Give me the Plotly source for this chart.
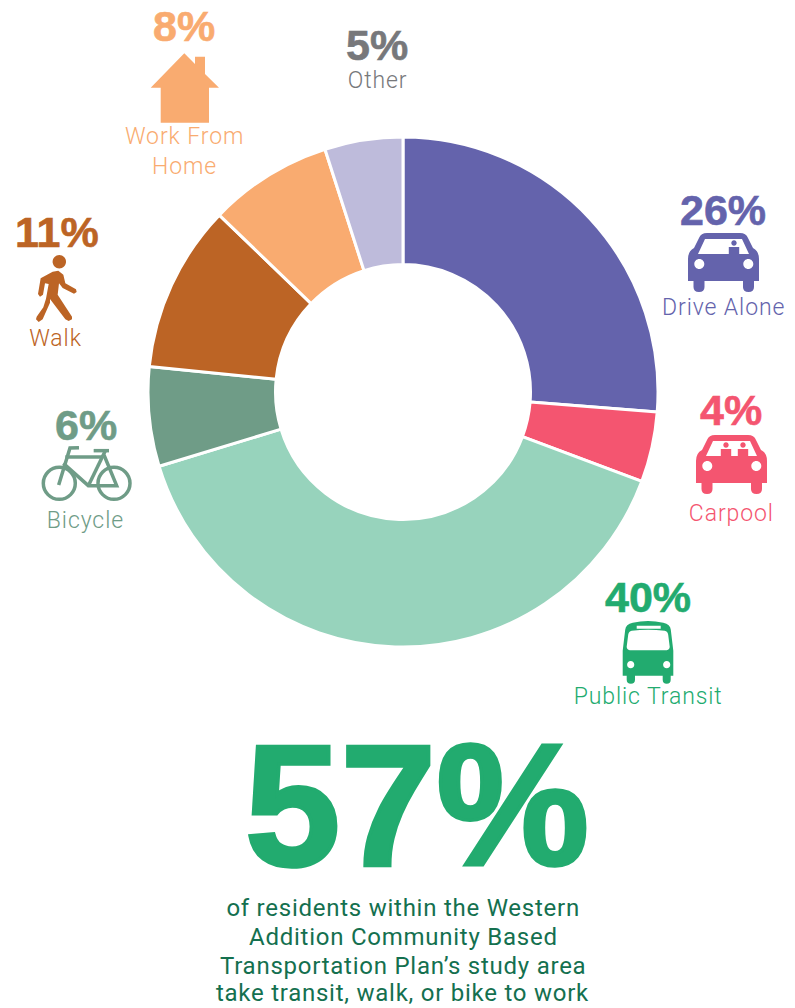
import json
import plotly.graph_objects as go

W, H = 795, 1008

# ---- data ----
categories = ["Drive Alone", "Carpool", "Public Transit", "Bicycle", "Walk", "Work From Home", "Other"]
printed_percent = [26, 4, 40, 6, 11, 8, 5]
slice_share = [26.25, 4.45, 39.6, 6.3, 10.6, 7.85, 4.95]
slice_colors = ["#6463AC", "#F45570", "#97D3BC", "#6F9C87", "#BC6425", "#F9AB70", "#BEBBDB"]
label_colors = ["#6463AC", "#F45570", "#22AB6F", "#6F9C87", "#BC6425", "#F9AB70", "#77787B"]
label_lines = ["Drive Alone", "Carpool", "Public Transit", "Bicycle", "Walk", "Work From<br>Home", "Other"]
headline = "57%"
caption_lines = [
    "of residents within the Western",
    "Addition Community Based",
    "Transportation Plan\u2019s study area",
    "take transit, walk, or bike to work",
]

# ---- layout helpers (pixel position -> paper) ----
def px(x):
    return x / W

def py(y):
    return 1 - y / H

def pt(x, y):
    return f"{px(x):.5f},{py(y):.5f}"

def to_path(cmds, ox=0, oy=0, s=1):
    out = []
    for c in cmds:
        letter, nums = c[0], c[1:]
        pairs = [pt(ox + s * nums[i], oy + s * nums[i + 1]) for i in range(0, len(nums), 2)]
        out.append(letter + " ".join(pairs))
    return " ".join(out)

def circle_cmds(cx, cy, r):
    k = 0.5523 * r
    return [
        ("M", cx + r, cy),
        ("C", cx + r, cy + k, cx + k, cy + r, cx, cy + r),
        ("C", cx - k, cy + r, cx - r, cy + k, cx - r, cy),
        ("C", cx - r, cy - k, cx - k, cy - r, cx, cy - r),
        ("C", cx + k, cy - r, cx + r, cy - k, cx + r, cy),
        ("Z",),
    ]

def poly_cmds(points):
    return [("M", *points[0])] + [("L", *p) for p in points[1:]] + [("Z",)]

def filled(cmds, color, ox=0, oy=0, s=1):
    return dict(type="path", path=to_path(cmds, ox, oy, s), xref="paper", yref="paper",
                fillcolor=color, line=dict(width=0), fillrule="evenodd", layer="above")

def stroked(cmds, color, ox=0, oy=0, s=1, width=3):
    return dict(type="path", path=to_path(cmds, ox, oy, s), xref="paper", yref="paper",
                line=dict(color=color, width=width), layer="above")

# ---- icons ----
CAR_BODY = [
    ("M", 19, 0), ("L", 52, 0), ("Q", 58, 0, 60, 5), ("L", 65, 15), ("Q", 71, 18, 71, 26),
    ("L", 71, 48), ("L", 66, 48), ("L", 66, 54), ("Q", 66, 59, 60.5, 59), ("Q", 55, 59, 55, 54),
    ("L", 55, 48), ("L", 16.5, 48), ("L", 16.5, 54), ("Q", 16.5, 59, 11, 59), ("Q", 5.5, 59, 5.5, 54),
    ("L", 5.5, 48), ("L", 0, 48), ("L", 0, 26), ("Q", 0, 18, 6, 15), ("L", 11, 5), ("Q", 13, 0, 19, 0), ("Z",),
]
CAR_WINDOW = poly_cmds([(17, 6), (54, 6), (61, 21), (10, 21)])

def person(cx, head_y, half):
    return circle_cmds(cx, head_y, 2.7) + poly_cmds(
        [(cx - half, head_y + 4), (cx + half, head_y + 4), (cx + half, 21), (cx - half, 21)])

def car(ox, oy, people, color):
    cmds = CAR_BODY + CAR_WINDOW + circle_cmds(11.3, 31, 5) + circle_cmds(60.3, 31, 5)
    for cx in people:
        cmds = cmds + person(cx, 10, 5.2)
    return filled(cmds, color, ox, oy)

BUS = [
    ("M", 2.5, 9), ("Q", 3, 3.5, 10, 2), ("Q", 25.3, -1.5, 40.6, 2), ("Q", 47.6, 3.5, 48.1, 9),
    ("L", 50.6, 30), ("L", 50.6, 55), ("L", 48, 55), ("L", 48, 59), ("Q", 48, 63, 44, 63), ("Q", 40, 63, 40, 59),
    ("L", 40, 55), ("L", 12.3, 55), ("L", 12.3, 59), ("Q", 12.3, 63, 8.2, 63), ("Q", 4, 63, 4, 59),
    ("L", 4, 55), ("L", 0, 55), ("L", 0, 30), ("Z",),
] + [
    ("M", 9, 10), ("Q", 25.3, 8, 42, 10), ("Q", 45, 10.5, 45.5, 14), ("L", 47, 26), ("Q", 47, 29, 44, 29.5),
    ("L", 7, 29.5), ("Q", 4, 29, 4, 26), ("L", 5.5, 14), ("Q", 6, 10.5, 9, 10), ("Z",),
] + poly_cmds([(14, 5), (38, 5), (38, 8), (14, 8)]) + circle_cmds(8, 44, 3.6) + circle_cmds(44, 44, 3.6)

HOUSE = poly_cmds([
    (184.3, 53.3), (195, 64), (195, 56.7), (205, 56.7), (205, 74), (219, 87.7), (209, 87.7),
    (209, 122.7), (160.7, 122.7), (160.7, 87.7), (150.7, 87.7),
])

WALKER_BODY = poly_cmds([
    (158, 215), (175, 212), (190, 224), (196, 250), (228, 268), (230, 276), (222, 281), (188, 264), (177, 250),
    (173, 284), (216, 350), (216, 358), (206, 363), (196, 358), (150, 297), (150, 308), (128, 358), (116, 366),
    (108, 358), (110, 350), (130, 322), (138, 296), (146, 252), (135, 250), (129, 284), (120, 290), (114, 282),
    (122, 235),
])

BIKE_STROKES = [
    [("M", 237, 743), ("L", 210, 744), ("L", 176, 855)],
    [("M", 196, 771), ("L", 306, 771)],
    [("M", 190, 790), ("L", 265, 857), ("L", 350, 857), ("L", 312, 765)],
    [("M", 316, 752), ("L", 265, 857)],
    [("M", 281, 752), ("L", 327, 752)],
]

BIKE = "#6F9C87"
shapes = [
    car(688, 233, [46], "#6463AC"),
    car(696, 435, [30, 47], "#F45570"),
    filled(BUS, "#22AB6F", 622.7, 620.7),
    filled(HOUSE, "#F9AB70"),
    filled(circle_cmds(59.3, 261.7, 6.7), "#BC6425"),
    filled(WALKER_BODY, "#BC6425", 0, 200, 1 / 3),
    stroked(circle_cmds(59.3, 483.3, 16), BIKE, width=3.5),
    stroked(circle_cmds(114, 483.3, 16), BIKE, width=3.5),
] + [stroked(c, BIKE, 0, 200, 1 / 3, 3.5) for c in BIKE_STROKES]

# ---- text ----
ASCENT = {"Roboto": 0.927, "Liberation Sans": 0.905}
DESCENT = {"Roboto": 0.244, "Liberation Sans": 0.212}
annotations = []

def text(x, baseline, s, size, color, family="Roboto", weight=400, box=None):
    a = dict(x=px(x), xref="paper", yref="paper", xanchor="center", showarrow=False, borderpad=0,
             text=s, align="center", font=dict(family=family, size=size, color=color, weight=weight))
    if box is None:
        a.update(y=py(baseline + DESCENT[family] * size), yanchor="bottom")
    else:
        a.update(y=py(baseline - ASCENT[family] * size), yanchor="top", height=box, valign="top", width=600)
    annotations.append(a)

pct_pos = [(723, 226), (731, 426), (648, 613), (86, 441), (57, 248), (184, 42), (377, 61)]
lab_pos = [(723, 316), (731, 522), (648, 705), (85, 529), (55.5, 347), (184, 175), (378, 89)]
pct_texts = []
for v, col, line, p, l in zip(printed_percent, label_colors, label_lines, pct_pos, lab_pos):
    pct_texts.append(f"{v}%")
    text(p[0], p[1], f"{v}%", 43, col, family="Liberation Sans", weight=700)
    text(l[0], l[1], line, 23, col, weight=300)

text(417, 864, headline, 172, "#22AB6F", family="Liberation Sans", weight=700, box=178)
caption_baselines = [917, 946, 975, 1002]
for s, b in zip(caption_lines, caption_baselines):
    text(403, b, s, 24, "#14704F")

fig = go.Figure(go.Pie(
    labels=categories, values=slice_share, sort=False, direction="clockwise", rotation=0,
    hole=0.5, textinfo="none", hoverinfo="label",
    marker=dict(colors=slice_colors, line=dict(color="#FFFFFF", width=3)),
    domain=dict(x=[148 / W, 658 / W], y=[1 - 647 / H, 1 - 137 / H]),
))
fig.update_layout(
    width=W, height=H, autosize=False, showlegend=False,
    margin=dict(l=0, r=0, t=0, b=0), paper_bgcolor="#FFFFFF", plot_bgcolor="#FFFFFF",
    shapes=shapes, annotations=annotations,
)

# letter spacing and the heavier numerals of the reference need CSS on the SVG text
post = """
var tracked = %s, captions = %s, pcts = %s, head = %s;
document.querySelectorAll('.annotation-text').forEach(function (t) {
  var s = t.getAttribute('data-unformatted');
  if (tracked.indexOf(s) >= 0) { t.style.letterSpacing = '0.9px'; }
  if (captions.indexOf(s) >= 0) { t.style.letterSpacing = '0.75px'; }
  if (pcts.indexOf(s) >= 0) { t.style.stroke = t.style.fill; t.style.strokeWidth = '0.6px'; }
  if (s === head) { t.style.stroke = t.style.fill; t.style.strokeWidth = '3.5px'; }
});
document.body.style.margin = '0';
""" % (json.dumps(label_lines), json.dumps(caption_lines), json.dumps(pct_texts), json.dumps(headline))
fig.write_html("out.html", post_script=post, config=dict(displayModeBar=False))
